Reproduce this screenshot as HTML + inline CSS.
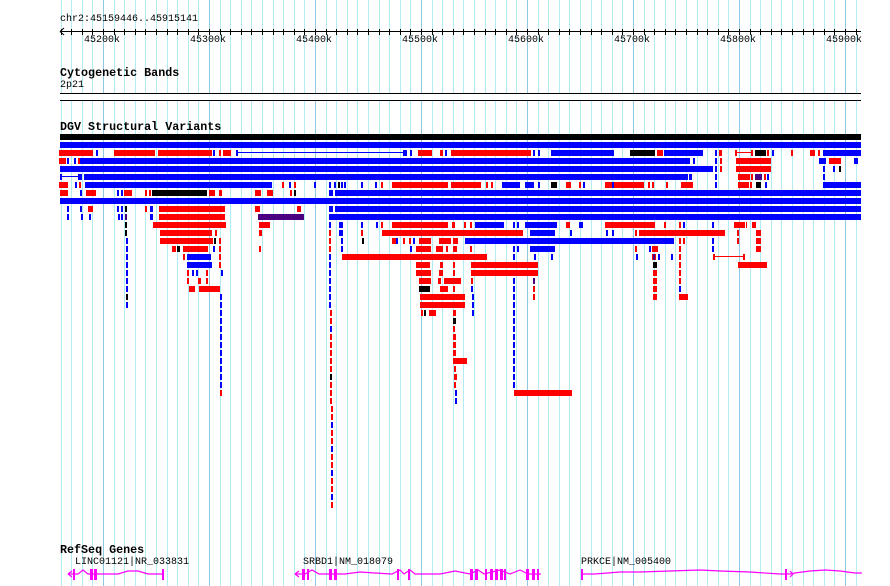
<!DOCTYPE html>
<html><head><meta charset="utf-8">
<style>
html,body{margin:0;padding:0;background:#fff;}
#w{position:relative;width:890px;height:586px;overflow:hidden;background:#fff;}
svg{position:absolute;left:0;top:0;}
.t{position:absolute;font-family:"Liberation Mono","DejaVu Sans Mono",monospace;color:#000;white-space:pre;line-height:1;}
.b{font-weight:bold;font-size:11.7px;}
.s{font-size:10px;}
</style></head><body>
<div id="w">
<svg id="g" width="890" height="586" xmlns="http://www.w3.org/2000/svg"></svg>
<div class="t s" style="left:60px;top:15px;">chr2:45159446..45915141</div>
<div class="t s" style="left:84px;top:36px;">45200k</div>
<div class="t s" style="left:190px;top:36px;">45300k</div>
<div class="t s" style="left:296px;top:36px;">45400k</div>
<div class="t s" style="left:402px;top:36px;">45500k</div>
<div class="t s" style="left:508px;top:36px;">45600k</div>
<div class="t s" style="left:614px;top:36px;">45700k</div>
<div class="t s" style="left:720px;top:36px;">45800k</div>
<div class="t s" style="left:826px;top:36px;">45900k</div>
<div class="t b" style="left:60px;top:68px;">Cytogenetic Bands</div>
<div class="t s" style="left:60px;top:81px;">2p21</div>
<div class="t b" style="left:60px;top:122px;">DGV Structural Variants</div>
<div class="t b" style="left:60px;top:545px;">RefSeq Genes</div>
<div class="t s" style="left:75px;top:558px;">LINC01121|NR_033831</div>
<div class="t s" style="left:303px;top:558px;">SRBD1|NM_018079</div>
<div class="t s" style="left:581px;top:558px;">PRKCE|NM_005400</div>
</div>
<script>
var S=document.getElementById('g'),h='';
function R(x,y,w,hh,c){h+='<rect x="'+x+'" y="'+y+'" width="'+w+'" height="'+hh+'" fill="'+c+'"/>';}
for(var n=-4;n<=71;n++){var x=Math.round(103+10.6*n);if(x<60)continue;var maj=(n%10==0);
 R(x,0,1,93,maj?'#8ecae6':'#b0ecf2');R(x,101,1,485,maj?'#8ecae6':'#b0ecf2');}
R(60,31,801,1,'#000');
for(var n=-4;n<=71;n++){var x=Math.round(103+10.6*n);if(x<61)continue;R(x,29,1,6,'#000');}
h+='<path d="M60 31.5 L64 28 M60 31.5 L64 35" stroke="#000" stroke-width="1" fill="none"/>';
R(60,93,801,1,'#000');R(60,100,801,1,'#000');
R(60,134,801,6,'#000');
var C={B:'#0000ff',R:'#ff0000',K:'#000000',P:'#4b0082'};
var rows=[
"B60-861",
"R59-93 B96-98 R114-155 R158-212 B213-215 R219-221 R223-231 b236-405 B405-407 B410-412 R418-432 R440-443 B445-447 R451-531 B533-535 B538-540 B551-614 K630-655 R657-663 B664-703 B715-717 R719-722 r735-753 K755-766 R767-769 B772-774 R791-793 R810-815 R818-820 B823-861",
"R59-66 B67-69 B74-76 R78-80 B80-690 B693-695 B715-717 R720-722 R736-771 B819-826 R829-841 B854-858",
"B60-713 B715-717 R720-722 R736-771 B823-825 B833-835 K839-841",
"b60-80 B80-82 B84-688 B689-692 B715-717 R738-750 R751-753 P755-762 R764-766 B767-769 B823-825",
"R59-68 B75-77 R79-81 B85-272 R282-284 B289-291 R294-296 B314-316 B329-331 B334-336 K338-340 B341-343 B344-346 B361-363 B375-377 R381-383 R392-448 R451-481 R486-488 R491-493 B502-520 B525-534 B538-540 K551-557 R566-571 R579-581 B583-585 R605-612 B612-614 R614-644 R648-650 R652-654 R666-668 R681-693 B715-717 R738-749 R750-752 K756-761 B765-767 B823-861",
"R60-68 B80-82 R86-96 B117-119 B121-123 R124-132 R145-147 R149-151 K152-207 R209-215 R219-222 R255-261 R267-273 R290-292 K294-296 B329-333 B335-861",
"B60-861",
"B67-69 B80-82 R88-93 B117-119 B121-123 K125-127 R145-147 B150-153 R159-225 R255-260 R297-301 B329-333 B335-861",
"B67-69 B81-83 B89-91 B118-120 B121-123 P125-127 B150-153 R159-225 P258-304 B329-861",
"K125-127 R153-226 R259-270 B329-331 B339-343 B361-363 B376-378 R381-383 R392-448 R452-455 R464-466 R470-472 B475-504 B513-515 B517-519 B525-557 R566-570 B579-583 R605-655 R664-666 R679-681 B683-685 B712-714 R734-745 R746-747 R752-756",
"K125-127 R160-212 R215-217 R259-262 R329-331 B339-343 R361-363 R382-523 B530-555 B570-572 B606-608 B612-614 R635-637 R639-725 R737-739 R756-761",
"B126-128 R160-213 K214-216 R219-221 R329-331 B341-343 K362-364 R392-396 B396-398 R403-405 R409-411 B413-415 R419-431 R439-451 R453-458 B465-674 R679-681 R683-685 B712-714 R737-739 R756-761",
"B126-128 R172-176 K177-180 R183-208 B213-215 R219-221 R259-261 R329-331 B341-343 B410-412 R416-431 R436-443 R446-448 R453-457 R470-472 B513-515 B517-519 B530-555 R635-637 B649-651 R652-658 R679-681 B712-714 R756-761",
"B126-128 R183-185 B187-211 R219-221 B329-331 R342-487 B513-515 B534-536 B551-553 B636-638 R652-656 P653-655 B658-660 B671-673 R679-681 r713-745",
"B126-128 B187-212 R219-221 B329-331 R416-430 R440-443 R453-455 R471-538 K653-657 R679-681 R738-767",
"B126-128 R187-189 B192-194 B196-198 R206-208 B221-223 B329-331 R416-431 R439-443 R453-455 R471-538 R653-657 R679-681",
"B126-128 R187-189 R198-201 R206-208 B329-331 R419-431 R438-441 R444-461 R471-473 B513-515 P533-535 R653-657 R679-681",
"B126-128 R189-195 R199-220 B329-331 K419-430 R440-448 R453-455 B471-473 B513-515 R533-535 R653-657 B679-681",
"K126-128 B220-222 B329-331 R420-465 B472-474 B513-515 R533-535 R653-657 R679-688",
"B126-128 B220-222 B329-331 R420-465 B472-474 B513-515",
"B220-222 R421-423 K424-426 R429-436 R453-456 B472-474 B513-515",
"B220-222 K453-456 B513-515",
"B220-222 R453-455 B513-515",
"B220-222 R453-456 B513-515",
"B220-222 R453-456 B513-515",
"B220-222 R453-456 B513-515",
"B220-222 R453-467 B513-515",
"B220-222 R454-456 B513-515",
"B220-222 R454-457 B513-515",
"B220-222 R454-456 B513-515",
"R220-222 B455-457 R514-572",
"B455-457"
];
rows.forEach(function(r,i){var y=142+8*i;r.split(' ').forEach(function(s){var c=s[0],a=s.slice(1).split('-'),x1=+a[0],x2=+a[1];
 if(c=='b'||c=='r'){var col=c=='b'?C.B:C.R;R(x1,y+2,x2-x1,1,col);R(x1,y,2,6,col);R(x2-2,y,2,6,col);}
 else R(x1,y,x2-x1,6,C[c]);});});
var pat="RRBRRRRRKRRRRRBRRBRRBRRBRB";
for(var i=21;i<=45;i++){R(i>=33?331:330,142+8*i,2,6,C[pat[i-21]]);}
var M='#ff00ff';
function ln(d){h+='<path d="'+d+'" stroke="'+M+'" stroke-width="1.2" fill="none"/>';}
ln('M68 574 L78 574 L83 570 L88 574 L98 574 L118 574 L128 571 L138 571 L148 574 L163 574');
ln('M68 574 L72 571 M68 574 L72 577');
[[73,2],[90,3],[94,3],[162,2]].forEach(function(e){R(e[0],569,e[1],11,M);});
ln('M295 574 L305 574 L312 570 L319 574 L345 574 L360 572 L375 573 L392 574 L400 570 L404 574 L410 570 L415 574 L440 574 L455 571 L470 574 L478 570 L484 574 L500 570 L510 574 L520 570 L528 574 L541 574');
ln('M295 574 L299 571 M295 574 L299 577');
[[302,3],[307,2],[329,3],[334,3],[397,2],[408,2],[470,3],[475,3],[485,2],[490,3],[495,3],[500,3],[504,2],[526,3],[532,3],[537,2]].forEach(function(e){R(e[0],569,e[1],11,M);});
ln('M581 574 L595 574 L620 572 L640 572 L670 571 L700 570 L720 571 L750 572 L780 574 L790 574 L795 573 L810 571 L825 570 L840 571 L855 573 L862 573');
R(581,569,2,11,M);R(785,569,2,11,M);
ln('M790 571 L793 574 L790 577');
S.innerHTML=h;
</script>
</body></html>
